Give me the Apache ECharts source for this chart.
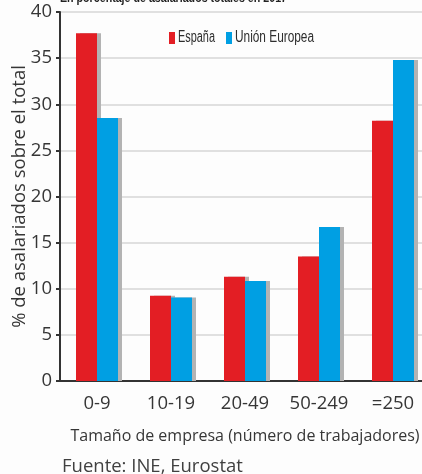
<!DOCTYPE html>
<html>
<head>
<meta charset="utf-8">
<script src="https://cdn.jsdelivr.net/npm/echarts@6/dist/echarts.min.js"></script>
<style>
  html, body { margin: 0; padding: 0; background: #fdfdfd; }
  #chart { width: 422px; height: 474px; }
</style>
</head>
<body>
<div id="chart"></div>
<script>
// Employee share by company size, Spain vs EU (2017)
const categories = ['0-9', '10-19', '20-49', '50-249', '=250'];
const espana = [37.7, 9.25, 11.3, 13.5, 28.2];
const unionEuropea = [28.5, 9.05, 10.85, 16.7, 34.8];
const yTicks = [0, 5, 10, 15, 20, 25, 30, 35, 40];
const seriesNames = ['España', 'Unión Europea'];
const seriesColors = ['#e31e24', '#009fe3'];

const txt = '#363636';
const sans = '"Open Sans", "Noto Sans", sans-serif';

// Condensed text: measure the natural width and squeeze it horizontally.
const ctx = document.createElement('canvas').getContext('2d');
function squeeze(text, font, targetWidth) {
  ctx.font = font;
  return targetWidth / ctx.measureText(text).width;
}

const titleText = 'En porcentaje de asalariados totales en 2017';
const titleFont = 'bold 13px "Liberation Sans"';
const legendFont = '16px "Liberation Sans"';

const chart = echarts.init(document.getElementById('chart'), null, { renderer: 'canvas' });

const shadow = {
  shadowColor: '#b3b3b3',
  shadowOffsetX: 4,
  shadowOffsetY: 0,
  shadowBlur: 0
};

chart.setOption({
  animation: false,
  backgroundColor: '#fdfdfd',
  title: {
    text: 'Fuente: INE, Eurostat',
    left: 57, top: 452,
    textStyle: { fontFamily: sans, fontSize: 18.5, fontWeight: 'normal', color: '#404040' }
  },
  legend: { show: false, data: seriesNames },
  graphic: [
    {
      type: 'text', left: 60, top: -8,
      scaleX: squeeze(titleText, titleFont, 227),
      style: { text: titleText, font: titleFont, fill: '#222' }
    },
    {
      type: 'group', left: 169, top: 30,
      children: [
        { type: 'rect', shape: { x: 0, y: 1, width: 6, height: 12 }, style: { fill: seriesColors[0] } },
        {
          type: 'text', x: 9, y: 7, scaleX: squeeze(seriesNames[0], legendFont, 37),
          style: { text: seriesNames[0], font: legendFont, fill: '#2e2e2e', verticalAlign: 'middle' }
        },
        { type: 'rect', shape: { x: 57, y: 1, width: 6, height: 12 }, style: { fill: seriesColors[1] } },
        {
          type: 'text', x: 66, y: 7, scaleX: squeeze(seriesNames[1], legendFont, 79),
          style: { text: seriesNames[1], font: legendFont, fill: '#2e2e2e', verticalAlign: 'middle' }
        }
      ]
    }
  ],
  grid: { left: 60, width: 370, top: 12, height: 369, containLabel: false, outerBoundsMode: 'none' },
  xAxis: {
    type: 'category',
    data: categories,
    axisLine: { lineStyle: { color: '#333', width: 2 } },
    axisTick: { alignWithLabel: true, length: 5, lineStyle: { color: '#333', width: 2 } },
    axisLabel: { interval: 0, fontFamily: sans, fontSize: 18.5, color: txt, margin: 13 },
    name: 'Tamaño de empresa (número de trabajadores)',
    nameLocation: 'middle',
    nameGap: 47,
    nameMoveOverlap: false,
    nameTextStyle: { fontFamily: sans, fontSize: 16, color: txt }
  },
  yAxis: {
    type: 'value',
    min: yTicks[0], max: yTicks[yTicks.length - 1], interval: 5,
    axisLine: { show: true, lineStyle: { color: '#333', width: 2 } },
    axisTick: { show: true, inside: false, length: 4, lineStyle: { color: '#333', width: 2 } },
    axisLabel: { fontFamily: sans, fontSize: 18.5, color: txt, margin: 8 },
    splitLine: { lineStyle: { color: '#d6d6d6', width: 1.5 } },
    name: '% de asalariados sobre el total',
    nameLocation: 'middle',
    nameGap: 31,
    nameMoveOverlap: false,
    nameTextStyle: { fontFamily: sans, fontSize: 18.5, color: txt }
  },
  series: [
    {
      name: seriesNames[0], type: 'bar', data: espana,
      barWidth: 21, barGap: '0%',
      itemStyle: Object.assign({ color: seriesColors[0] }, shadow)
    },
    {
      name: seriesNames[1], type: 'bar', data: unionEuropea,
      barWidth: 21,
      itemStyle: Object.assign({ color: seriesColors[1] }, shadow)
    }
  ]
});
</script>
</body>
</html>
